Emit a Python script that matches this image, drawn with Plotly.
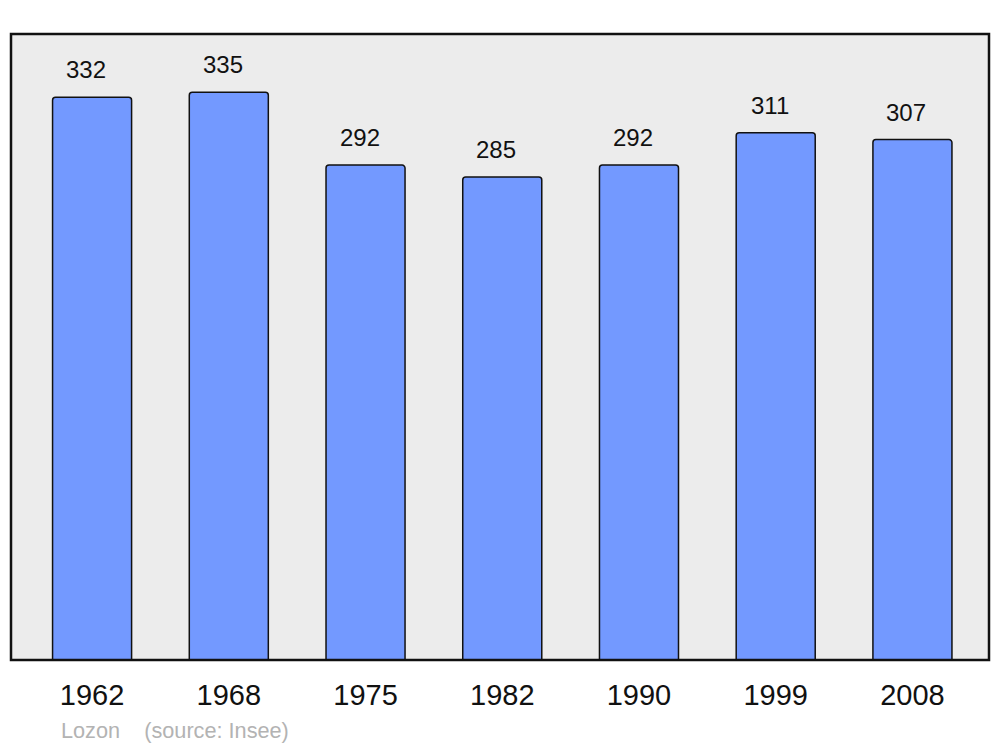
import plotly.graph_objects as go

years = ["1962", "1968", "1975", "1982", "1990", "1999", "2008"]
population = [332, 335, 292, 285, 292, 311, 307]
commune = "Lozon"
source = "(source: Insee)"

fig = go.Figure()

fig.add_trace(go.Bar(
    x=years, y=population, width=0.578,
    marker=dict(color="#7399ff", line=dict(color="#111111", width=1.5), cornerradius=3),
    hoverinfo="x+y",
))

# value labels above the bars (category index, numeric strings confuse the axis)
for i, val in enumerate(population):
    fig.add_annotation(x=i, y=val, text=str(val), showarrow=False,
                       yanchor="bottom", yshift=12, xshift=-6,
                       font=dict(size=24, color="#111111"))

fig.add_annotation(xref="paper", yref="paper", x=0.049, y=-0.112,
                   xanchor="left", yanchor="middle", showarrow=False,
                   text=commune + "&nbsp;&nbsp;&nbsp;&nbsp;" + source,
                   font=dict(size=21.7, color="#b3b3b3"))

# frame around the plot area
fig.add_shape(type="rect", xref="paper", yref="paper", x0=0, x1=1, y0=0, y1=1,
              line=dict(color="#111111", width=2.5), layer="above")

fig.update_layout(
    width=1000, height=747,
    margin=dict(l=11, r=11, t=34, b=87),
    paper_bgcolor="white", plot_bgcolor="#ececec",
    font=dict(family="Liberation Sans, Arial, sans-serif", color="#111111"),
    showlegend=False,
    xaxis=dict(type="category", range=[-0.593, 6.56], showgrid=False, zeroline=False,
               ticks="outside", ticklen=9, tickcolor="rgba(0,0,0,0)",
               tickfont=dict(size=29, color="#111111")),
    yaxis=dict(range=[0, 369.3], showgrid=False, zeroline=False, showticklabels=False),
)

fig.write_html("out.html", config={"displayModeBar": False},
               post_script="document.body.style.margin='0';")
